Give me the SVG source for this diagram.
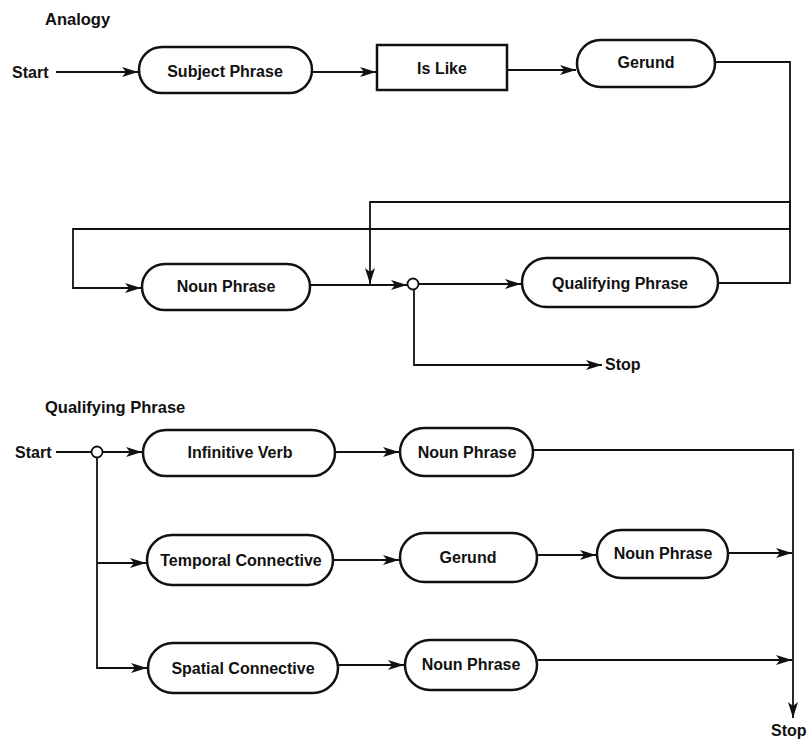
<svg xmlns="http://www.w3.org/2000/svg" width="809" height="739" viewBox="0 0 809 739">
<style>
.n{fill:#fff;stroke:#111;stroke-width:2.5}
.t{font-family:"Liberation Sans",Arial,sans-serif;font-weight:bold;font-size:16px;fill:#111;text-anchor:middle}
.l{font-family:"Liberation Sans",Arial,sans-serif;font-weight:bold;font-size:16px;fill:#111}
.h{font-family:"Liberation Sans",Arial,sans-serif;font-weight:bold;font-size:16.5px;fill:#111}
.c{fill:none;stroke:#111;stroke-width:1.8}
.a{marker-end:url(#ar)}
.j{fill:#fff;stroke:#111;stroke-width:1.8}
</style>
<defs>
<marker id="ar" markerUnits="userSpaceOnUse" markerWidth="17" markerHeight="12" refX="16" refY="6" orient="auto">
<path d="M0,1 L16,6 L0,11 L4,6 z" fill="#111"/>
</marker>
</defs>
<rect width="809" height="739" fill="#fff"/>
<text class="h" x="45" y="25">Analogy</text>
<text class="h" x="45" y="413">Qualifying Phrase</text>
<g id="connectors">
<path class="c a" d="M56,72 H138"/>
<path class="c a" d="M313,72 H376"/>
<path class="c a" d="M508,70 H576"/>
<path class="c a" d="M716,62 H790 V229 H73 V288 H141"/>
<path class="c a" d="M311,285 H407"/>
<path class="c a" d="M719,283 H790 V202 H370 V284"/>
<path class="c a" d="M419,284 H521"/>
<path class="c a" d="M414,290 V365 H602"/>
<path class="c" d="M56,452 H91"/>
<path class="c a" d="M103,452 H142"/>
<path class="c a" d="M97,458 V668 H147"/>
<path class="c a" d="M97,563 H146"/>
<path class="c a" d="M336,452 H399"/>
<path class="c a" d="M534,450 H793 V718"/>
<path class="c a" d="M334,560 H399"/>
<path class="c a" d="M538,555 H596"/>
<path class="c a" d="M729,553 H792"/>
<path class="c a" d="M339,665 H404"/>
<path class="c a" d="M538,660 H792"/>
</g>
<g id="start1"><text class="l" x="12" y="78">Start</text></g>
<g id="subject-phrase"><rect class="n" x="139" y="47" width="173" height="46" rx="23"/><text class="t" x="225" y="77">Subject Phrase</text></g>
<g id="is-like"><rect class="n" x="377" y="45" width="130" height="45"/><text class="t" x="442" y="74">Is Like</text></g>
<g id="gerund1"><rect class="n" x="577" y="40" width="138" height="47" rx="23.5"/><text class="t" x="646" y="68">Gerund</text></g>
<g id="noun-phrase1"><rect class="n" x="142" y="264" width="168" height="46" rx="23"/><text class="t" x="226" y="292">Noun Phrase</text></g>
<g id="junction1"><circle class="j" cx="413" cy="284" r="5.5"/></g>
<g id="qualifying-phrase"><rect class="n" x="522" y="258" width="196" height="49" rx="24.5"/><text class="t" x="620" y="289">Qualifying Phrase</text></g>
<g id="stop1"><text class="l" x="605" y="370">Stop</text></g>
<g id="start2"><text class="l" x="15" y="458">Start</text></g>
<g id="junction2"><circle class="j" cx="97" cy="452" r="5.5"/></g>
<g id="infinitive-verb"><rect class="n" x="143" y="430" width="192" height="46" rx="23"/><text class="t" x="240" y="458">Infinitive Verb</text></g>
<g id="noun-phrase2"><rect class="n" x="400" y="428" width="133" height="48" rx="24"/><text class="t" x="467" y="458">Noun Phrase</text></g>
<g id="temporal-connective"><rect class="n" x="147" y="535" width="186" height="50" rx="25"/><text class="t" x="241" y="566">Temporal Connective</text></g>
<g id="gerund2"><rect class="n" x="400" y="533" width="137" height="49" rx="24.5"/><text class="t" x="468" y="563">Gerund</text></g>
<g id="noun-phrase3"><rect class="n" x="597" y="530" width="131" height="48" rx="24"/><text class="t" x="663" y="559">Noun Phrase</text></g>
<g id="spatial-connective"><rect class="n" x="148" y="643" width="190" height="50" rx="25"/><text class="t" x="243" y="674">Spatial Connective</text></g>
<g id="noun-phrase4"><rect class="n" x="405" y="640" width="132" height="50" rx="25"/><text class="t" x="471" y="670">Noun Phrase</text></g>
<g id="stop2"><text class="l" x="771" y="736">Stop</text></g>
</svg>
